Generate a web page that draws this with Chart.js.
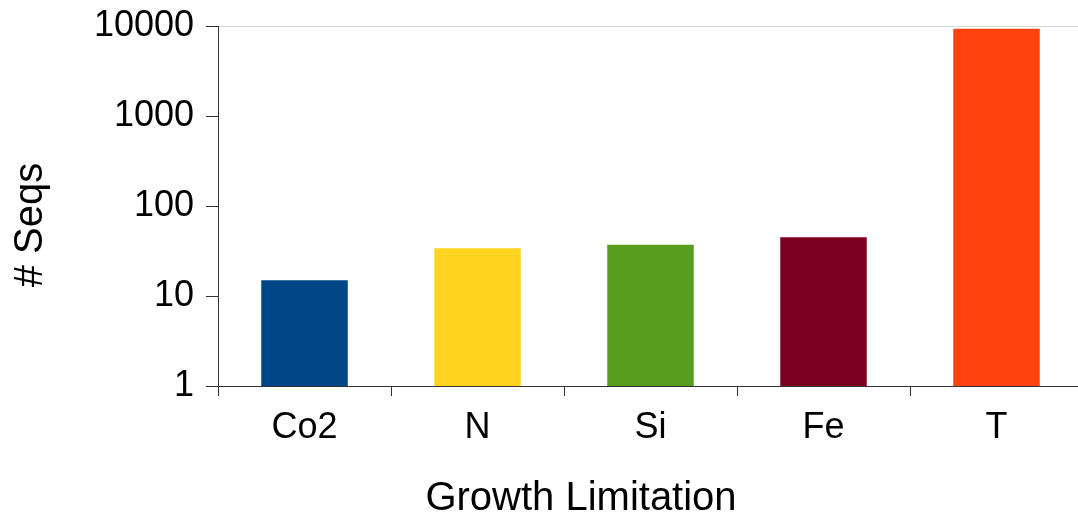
<!DOCTYPE html>
<html>
<head>
<meta charset="utf-8">
<script src="https://cdn.jsdelivr.net/npm/chart.js@4/dist/chart.umd.min.js"></script>
<style>
  html, body { margin: 0; padding: 0; background: #fff; overflow: hidden; }
  #wrap { width: 1078px; height: 517px; overflow: hidden; position: relative; }
  canvas { display: block; }
</style>
</head>
<body>
<div id="wrap"><canvas id="c" width="1083" height="517"></canvas></div>
<script>
const categories = ['Co2', 'N', 'Si', 'Fe', 'T'];
const seqCounts = [15, 34, 37, 45, 9300];
const barColors = ['#004586', '#ffd320', '#579d1c', '#7e0021', '#ff420e'];
const yTicks = [1, 10, 100, 1000, 10000];
const xTitle = 'Growth Limitation';
const yTitle = '# Seqs';

const FONT = '"Liberation Sans", Arial, sans-serif';

const titlesPlugin = {
  id: 'titles',
  afterDraw(chart) {
    const ctx = chart.ctx;
    ctx.save();
    ctx.fillStyle = '#000';
    ctx.font = '40px ' + FONT;
    ctx.textAlign = 'center';
    ctx.textBaseline = 'alphabetic';
    ctx.fillText(xTitle, 581, 510);
    ctx.translate(41.5, 225);
    ctx.rotate(-Math.PI / 2);
    ctx.fillText(yTitle, 0, 0);
    ctx.restore();
  }
};

new Chart(document.getElementById('c'), {
  type: 'bar',
  data: {
    labels: categories,
    datasets: [{
      data: seqCounts,
      backgroundColor: barColors,
      borderWidth: 0,
      barPercentage: 0.5,
      categoryPercentage: 1.0
    }]
  },
  options: {
    responsive: false,
    animation: false,
    devicePixelRatio: 1,
    layout: { padding: { top: 26, right: 0, left: 0, bottom: 0 } },
    plugins: { legend: { display: false }, tooltip: { enabled: false }, title: { display: false } },
    scales: {
      x: {
        grid: { offset: true, drawOnChartArea: false, drawTicks: true, tickLength: 10, tickColor: '#333', color: '#333' },
        border: { display: true, color: '#333', width: 1 },
        ticks: { color: '#000', font: { family: FONT, size: 36 }, padding: 10, maxRotation: 0 },
        afterFit(scale) { scale.height = 131; scale.paddingLeft = 0; scale.paddingRight = 0; }
      },
      y: {
        type: 'logarithmic',
        min: 1,
        max: 10000,
        afterBuildTicks(scale) { scale.ticks = yTicks.map(v => ({ value: v })); },
        grid: {
          drawOnChartArea: true,
          drawTicks: true,
          tickLength: 12,
          tickColor: '#333',
          color: (c) => (c.tick && c.tick.value === 10000) ? '#d6d6d6' : 'rgba(0,0,0,0)'
        },
        border: { display: true, color: '#333', width: 1 },
        ticks: {
          color: '#000',
          font: { family: FONT, size: 36 },
          padding: 12,
          callback: (v) => String(v)
        },
        afterFit(scale) { scale.width = 218; scale.paddingTop = 0; scale.paddingBottom = 0; }
      }
    }
  },
  plugins: [titlesPlugin]
});
</script>
</body>
</html>
